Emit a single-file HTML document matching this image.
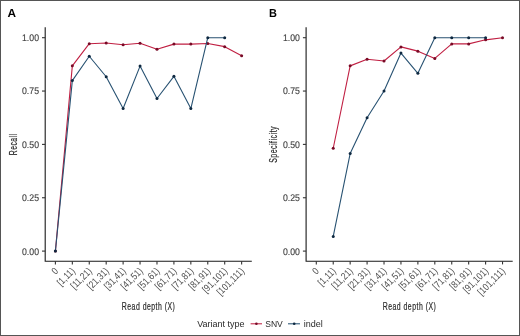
<!DOCTYPE html><html><head><meta charset="utf-8"><style>html,body{margin:0;padding:0;background:#fff;}svg{display:block;will-change:transform;}</style></head><body>
<svg width="520" height="336" viewBox="0 0 520 336" font-family='"Liberation Sans", sans-serif'>
<rect x="0" y="0" width="520" height="336" fill="#fff"/>
<rect x="0.5" y="0.5" width="519" height="335" fill="none" stroke="#555" stroke-width="1"/>
<text x="7.60" y="17.0" font-size="11.8" font-weight="bold" text-rendering="geometricPrecision" fill="#000">A</text>
<path d="M45.20 27.3 V261.80 M44.70 261.30 H251.80" stroke="#1a1a1a" stroke-width="1.1" fill="none"/>
<path d="M42.00 37.70 H45.20" stroke="#333" stroke-width="1.1"/>
<text x="39.00" y="41.10" font-size="9.6" fill="#444" stroke="#444" stroke-width="0.15" text-rendering="geometricPrecision" text-anchor="end" textLength="17.0" lengthAdjust="spacingAndGlyphs">1.00</text>
<path d="M42.00 91.05 H45.20" stroke="#333" stroke-width="1.1"/>
<text x="39.00" y="94.45" font-size="9.6" fill="#444" stroke="#444" stroke-width="0.15" text-rendering="geometricPrecision" text-anchor="end" textLength="17.0" lengthAdjust="spacingAndGlyphs">0.75</text>
<path d="M42.00 144.40 H45.20" stroke="#333" stroke-width="1.1"/>
<text x="39.00" y="147.80" font-size="9.6" fill="#444" stroke="#444" stroke-width="0.15" text-rendering="geometricPrecision" text-anchor="end" textLength="17.0" lengthAdjust="spacingAndGlyphs">0.50</text>
<path d="M42.00 197.75 H45.20" stroke="#333" stroke-width="1.1"/>
<text x="39.00" y="201.15" font-size="9.6" fill="#444" stroke="#444" stroke-width="0.15" text-rendering="geometricPrecision" text-anchor="end" textLength="17.0" lengthAdjust="spacingAndGlyphs">0.25</text>
<path d="M42.00 251.10 H45.20" stroke="#333" stroke-width="1.1"/>
<text x="39.00" y="254.50" font-size="9.6" fill="#444" stroke="#444" stroke-width="0.15" text-rendering="geometricPrecision" text-anchor="end" textLength="17.0" lengthAdjust="spacingAndGlyphs">0.00</text>
<path d="M55.40 261.30 V264.40" stroke="#333" stroke-width="1.1"/>
<text transform="translate(54.60,267.60) rotate(-45)" font-size="10" fill="#4d4d4d" text-anchor="end" dy="5.8" textLength="4.67" lengthAdjust="spacingAndGlyphs">0</text>
<path d="M72.33 261.30 V264.40" stroke="#333" stroke-width="1.1"/>
<text transform="translate(71.53,267.60) rotate(-45)" font-size="10" fill="#4d4d4d" text-anchor="end" dy="5.8" textLength="20.86" lengthAdjust="spacingAndGlyphs">[1,11)</text>
<path d="M89.26 261.30 V264.40" stroke="#333" stroke-width="1.1"/>
<text transform="translate(88.46,267.60) rotate(-45)" font-size="10" fill="#4d4d4d" text-anchor="end" dy="5.8" textLength="25.53" lengthAdjust="spacingAndGlyphs">[11,21)</text>
<path d="M106.19 261.30 V264.40" stroke="#333" stroke-width="1.1"/>
<text transform="translate(105.39,267.60) rotate(-45)" font-size="10" fill="#4d4d4d" text-anchor="end" dy="5.8" textLength="26.15" lengthAdjust="spacingAndGlyphs">[21,31)</text>
<path d="M123.12 261.30 V264.40" stroke="#333" stroke-width="1.1"/>
<text transform="translate(122.32,267.60) rotate(-45)" font-size="10" fill="#4d4d4d" text-anchor="end" dy="5.8" textLength="26.15" lengthAdjust="spacingAndGlyphs">[31,41)</text>
<path d="M140.05 261.30 V264.40" stroke="#333" stroke-width="1.1"/>
<text transform="translate(139.25,267.60) rotate(-45)" font-size="10" fill="#4d4d4d" text-anchor="end" dy="5.8" textLength="26.15" lengthAdjust="spacingAndGlyphs">[41,51)</text>
<path d="M156.98 261.30 V264.40" stroke="#333" stroke-width="1.1"/>
<text transform="translate(156.18,267.60) rotate(-45)" font-size="10" fill="#4d4d4d" text-anchor="end" dy="5.8" textLength="26.15" lengthAdjust="spacingAndGlyphs">[51,61)</text>
<path d="M173.91 261.30 V264.40" stroke="#333" stroke-width="1.1"/>
<text transform="translate(173.11,267.60) rotate(-45)" font-size="10" fill="#4d4d4d" text-anchor="end" dy="5.8" textLength="26.15" lengthAdjust="spacingAndGlyphs">[61,71)</text>
<path d="M190.84 261.30 V264.40" stroke="#333" stroke-width="1.1"/>
<text transform="translate(190.04,267.60) rotate(-45)" font-size="10" fill="#4d4d4d" text-anchor="end" dy="5.8" textLength="26.15" lengthAdjust="spacingAndGlyphs">[71,81)</text>
<path d="M207.77 261.30 V264.40" stroke="#333" stroke-width="1.1"/>
<text transform="translate(206.97,267.60) rotate(-45)" font-size="10" fill="#4d4d4d" text-anchor="end" dy="5.8" textLength="26.15" lengthAdjust="spacingAndGlyphs">[81,91)</text>
<path d="M224.70 261.30 V264.40" stroke="#333" stroke-width="1.1"/>
<text transform="translate(223.90,267.60) rotate(-45)" font-size="10" fill="#4d4d4d" text-anchor="end" dy="5.8" textLength="30.82" lengthAdjust="spacingAndGlyphs">[91,101)</text>
<path d="M241.63 261.30 V264.40" stroke="#333" stroke-width="1.1"/>
<text transform="translate(240.83,267.60) rotate(-45)" font-size="10" fill="#4d4d4d" text-anchor="end" dy="5.8" textLength="34.25" lengthAdjust="spacingAndGlyphs">[101,111)</text>
<text transform="translate(16.50,144.4) rotate(-90)" font-size="10" fill="#2a2a2a" stroke="#2a2a2a" stroke-width="0.2" text-anchor="middle" letter-spacing="0.7" textLength="21.6" lengthAdjust="spacingAndGlyphs">Recall</text>
<text x="148.60" y="309.6" font-size="10" fill="#2a2a2a" stroke="#2a2a2a" stroke-width="0.2" text-anchor="middle" letter-spacing="0.7" textLength="53.6" lengthAdjust="spacingAndGlyphs">Read depth (X)</text>
<path d="M55.40 251.10 L72.33 65.87 L89.26 43.68 L106.19 43.03 L123.12 44.74 L140.05 43.25 L156.98 49.22 L173.91 44.10 L190.84 44.10 L207.77 43.46 L224.70 46.66 L241.63 55.84" stroke="#C01F42" stroke-width="1.1" fill="none" stroke-linejoin="round"/>
<circle cx="55.40" cy="251.10" r="1.5" fill="#780A26"/>
<circle cx="72.33" cy="65.87" r="1.5" fill="#780A26"/>
<circle cx="89.26" cy="43.68" r="1.5" fill="#780A26"/>
<circle cx="106.19" cy="43.03" r="1.5" fill="#780A26"/>
<circle cx="123.12" cy="44.74" r="1.5" fill="#780A26"/>
<circle cx="140.05" cy="43.25" r="1.5" fill="#780A26"/>
<circle cx="156.98" cy="49.22" r="1.5" fill="#780A26"/>
<circle cx="173.91" cy="44.10" r="1.5" fill="#780A26"/>
<circle cx="190.84" cy="44.10" r="1.5" fill="#780A26"/>
<circle cx="207.77" cy="43.46" r="1.5" fill="#780A26"/>
<circle cx="224.70" cy="46.66" r="1.5" fill="#780A26"/>
<circle cx="241.63" cy="55.84" r="1.5" fill="#780A26"/>
<path d="M55.40 251.10 L72.33 80.59 L89.26 56.27 L106.19 76.75 L123.12 108.55 L140.05 66.08 L156.98 98.52 L173.91 76.33 L190.84 108.55 L207.77 37.70 L224.70 37.70" stroke="#285272" stroke-width="1.1" fill="none" stroke-linejoin="round"/>
<circle cx="55.40" cy="251.10" r="1.5" fill="#0E2840"/>
<circle cx="72.33" cy="80.59" r="1.5" fill="#0E2840"/>
<circle cx="89.26" cy="56.27" r="1.5" fill="#0E2840"/>
<circle cx="106.19" cy="76.75" r="1.5" fill="#0E2840"/>
<circle cx="123.12" cy="108.55" r="1.5" fill="#0E2840"/>
<circle cx="140.05" cy="66.08" r="1.5" fill="#0E2840"/>
<circle cx="156.98" cy="98.52" r="1.5" fill="#0E2840"/>
<circle cx="173.91" cy="76.33" r="1.5" fill="#0E2840"/>
<circle cx="190.84" cy="108.55" r="1.5" fill="#0E2840"/>
<circle cx="207.77" cy="37.70" r="1.5" fill="#0E2840"/>
<circle cx="224.70" cy="37.70" r="1.5" fill="#0E2840"/>
<text x="268.90" y="17.0" font-size="11.8" font-weight="bold" text-rendering="geometricPrecision" fill="#000" textLength="7.9" lengthAdjust="spacingAndGlyphs">B</text>
<path d="M306.10 27.3 V261.80 M305.60 261.30 H512.70" stroke="#1a1a1a" stroke-width="1.1" fill="none"/>
<path d="M302.90 37.70 H306.10" stroke="#333" stroke-width="1.1"/>
<text x="299.90" y="41.10" font-size="9.6" fill="#444" stroke="#444" stroke-width="0.15" text-rendering="geometricPrecision" text-anchor="end" textLength="17.0" lengthAdjust="spacingAndGlyphs">1.00</text>
<path d="M302.90 91.05 H306.10" stroke="#333" stroke-width="1.1"/>
<text x="299.90" y="94.45" font-size="9.6" fill="#444" stroke="#444" stroke-width="0.15" text-rendering="geometricPrecision" text-anchor="end" textLength="17.0" lengthAdjust="spacingAndGlyphs">0.75</text>
<path d="M302.90 144.40 H306.10" stroke="#333" stroke-width="1.1"/>
<text x="299.90" y="147.80" font-size="9.6" fill="#444" stroke="#444" stroke-width="0.15" text-rendering="geometricPrecision" text-anchor="end" textLength="17.0" lengthAdjust="spacingAndGlyphs">0.50</text>
<path d="M302.90 197.75 H306.10" stroke="#333" stroke-width="1.1"/>
<text x="299.90" y="201.15" font-size="9.6" fill="#444" stroke="#444" stroke-width="0.15" text-rendering="geometricPrecision" text-anchor="end" textLength="17.0" lengthAdjust="spacingAndGlyphs">0.25</text>
<path d="M302.90 251.10 H306.10" stroke="#333" stroke-width="1.1"/>
<text x="299.90" y="254.50" font-size="9.6" fill="#444" stroke="#444" stroke-width="0.15" text-rendering="geometricPrecision" text-anchor="end" textLength="17.0" lengthAdjust="spacingAndGlyphs">0.00</text>
<path d="M316.30 261.30 V264.40" stroke="#333" stroke-width="1.1"/>
<text transform="translate(315.50,267.60) rotate(-45)" font-size="10" fill="#4d4d4d" text-anchor="end" dy="5.8" textLength="4.67" lengthAdjust="spacingAndGlyphs">0</text>
<path d="M333.23 261.30 V264.40" stroke="#333" stroke-width="1.1"/>
<text transform="translate(332.43,267.60) rotate(-45)" font-size="10" fill="#4d4d4d" text-anchor="end" dy="5.8" textLength="20.86" lengthAdjust="spacingAndGlyphs">[1,11)</text>
<path d="M350.16 261.30 V264.40" stroke="#333" stroke-width="1.1"/>
<text transform="translate(349.36,267.60) rotate(-45)" font-size="10" fill="#4d4d4d" text-anchor="end" dy="5.8" textLength="25.53" lengthAdjust="spacingAndGlyphs">[11,21)</text>
<path d="M367.09 261.30 V264.40" stroke="#333" stroke-width="1.1"/>
<text transform="translate(366.29,267.60) rotate(-45)" font-size="10" fill="#4d4d4d" text-anchor="end" dy="5.8" textLength="26.15" lengthAdjust="spacingAndGlyphs">[21,31)</text>
<path d="M384.02 261.30 V264.40" stroke="#333" stroke-width="1.1"/>
<text transform="translate(383.22,267.60) rotate(-45)" font-size="10" fill="#4d4d4d" text-anchor="end" dy="5.8" textLength="26.15" lengthAdjust="spacingAndGlyphs">[31,41)</text>
<path d="M400.95 261.30 V264.40" stroke="#333" stroke-width="1.1"/>
<text transform="translate(400.15,267.60) rotate(-45)" font-size="10" fill="#4d4d4d" text-anchor="end" dy="5.8" textLength="26.15" lengthAdjust="spacingAndGlyphs">[41,51)</text>
<path d="M417.88 261.30 V264.40" stroke="#333" stroke-width="1.1"/>
<text transform="translate(417.08,267.60) rotate(-45)" font-size="10" fill="#4d4d4d" text-anchor="end" dy="5.8" textLength="26.15" lengthAdjust="spacingAndGlyphs">[51,61)</text>
<path d="M434.81 261.30 V264.40" stroke="#333" stroke-width="1.1"/>
<text transform="translate(434.01,267.60) rotate(-45)" font-size="10" fill="#4d4d4d" text-anchor="end" dy="5.8" textLength="26.15" lengthAdjust="spacingAndGlyphs">[61,71)</text>
<path d="M451.74 261.30 V264.40" stroke="#333" stroke-width="1.1"/>
<text transform="translate(450.94,267.60) rotate(-45)" font-size="10" fill="#4d4d4d" text-anchor="end" dy="5.8" textLength="26.15" lengthAdjust="spacingAndGlyphs">[71,81)</text>
<path d="M468.67 261.30 V264.40" stroke="#333" stroke-width="1.1"/>
<text transform="translate(467.87,267.60) rotate(-45)" font-size="10" fill="#4d4d4d" text-anchor="end" dy="5.8" textLength="26.15" lengthAdjust="spacingAndGlyphs">[81,91)</text>
<path d="M485.60 261.30 V264.40" stroke="#333" stroke-width="1.1"/>
<text transform="translate(484.80,267.60) rotate(-45)" font-size="10" fill="#4d4d4d" text-anchor="end" dy="5.8" textLength="30.82" lengthAdjust="spacingAndGlyphs">[91,101)</text>
<path d="M502.53 261.30 V264.40" stroke="#333" stroke-width="1.1"/>
<text transform="translate(501.73,267.60) rotate(-45)" font-size="10" fill="#4d4d4d" text-anchor="end" dy="5.8" textLength="34.25" lengthAdjust="spacingAndGlyphs">[101,111)</text>
<text transform="translate(277.40,144.4) rotate(-90)" font-size="10" fill="#2a2a2a" stroke="#2a2a2a" stroke-width="0.2" text-anchor="middle" letter-spacing="0.7" textLength="36.9" lengthAdjust="spacingAndGlyphs">Specificity</text>
<text x="409.50" y="309.6" font-size="10" fill="#2a2a2a" stroke="#2a2a2a" stroke-width="0.2" text-anchor="middle" letter-spacing="0.7" textLength="53.6" lengthAdjust="spacingAndGlyphs">Read depth (X)</text>
<path d="M333.23 148.24 L350.16 65.87 L367.09 59.25 L384.02 60.96 L400.95 46.88 L417.88 51.14 L434.81 58.40 L451.74 43.89 L468.67 43.89 L485.60 39.83 L502.53 37.70" stroke="#C01F42" stroke-width="1.1" fill="none" stroke-linejoin="round"/>
<circle cx="333.23" cy="148.24" r="1.5" fill="#780A26"/>
<circle cx="350.16" cy="65.87" r="1.5" fill="#780A26"/>
<circle cx="367.09" cy="59.25" r="1.5" fill="#780A26"/>
<circle cx="384.02" cy="60.96" r="1.5" fill="#780A26"/>
<circle cx="400.95" cy="46.88" r="1.5" fill="#780A26"/>
<circle cx="417.88" cy="51.14" r="1.5" fill="#780A26"/>
<circle cx="434.81" cy="58.40" r="1.5" fill="#780A26"/>
<circle cx="451.74" cy="43.89" r="1.5" fill="#780A26"/>
<circle cx="468.67" cy="43.89" r="1.5" fill="#780A26"/>
<circle cx="485.60" cy="39.83" r="1.5" fill="#780A26"/>
<circle cx="502.53" cy="37.70" r="1.5" fill="#780A26"/>
<path d="M333.23 236.38 L350.16 153.58 L367.09 117.72 L384.02 91.05 L400.95 53.06 L417.88 73.34 L434.81 37.70 L451.74 37.70 L468.67 37.70 L485.60 37.70" stroke="#285272" stroke-width="1.1" fill="none" stroke-linejoin="round"/>
<circle cx="333.23" cy="236.38" r="1.5" fill="#0E2840"/>
<circle cx="350.16" cy="153.58" r="1.5" fill="#0E2840"/>
<circle cx="367.09" cy="117.72" r="1.5" fill="#0E2840"/>
<circle cx="384.02" cy="91.05" r="1.5" fill="#0E2840"/>
<circle cx="400.95" cy="53.06" r="1.5" fill="#0E2840"/>
<circle cx="417.88" cy="73.34" r="1.5" fill="#0E2840"/>
<circle cx="434.81" cy="37.70" r="1.5" fill="#0E2840"/>
<circle cx="451.74" cy="37.70" r="1.5" fill="#0E2840"/>
<circle cx="468.67" cy="37.70" r="1.5" fill="#0E2840"/>
<circle cx="485.60" cy="37.70" r="1.5" fill="#0E2840"/>
<text x="197.2" y="326.6" font-size="9" fill="#2a2a2a">Variant type</text>
<path d="M250.6 323.8 H262" stroke="#C01F42" stroke-width="1.05"/><circle cx="256.4" cy="323.8" r="1.3" fill="#780A26"/>
<text x="265.2" y="326.6" font-size="9" fill="#2a2a2a" textLength="17.6" lengthAdjust="spacingAndGlyphs">SNV</text>
<path d="M288 323.8 H300" stroke="#285272" stroke-width="1.05"/><circle cx="294.2" cy="323.8" r="1.3" fill="#0E2840"/>
<text x="303.8" y="326.6" font-size="9" fill="#2a2a2a">indel</text>
</svg></body></html>
